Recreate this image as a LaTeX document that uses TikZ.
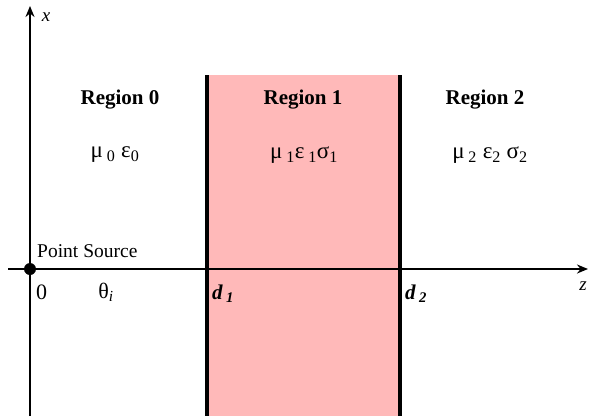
\documentclass[tikz,border=0pt]{standalone}
\usepackage{fontspec}
\setmainfont{Liberation Serif}
\usetikzlibrary{arrows.meta}
\begin{document}
\begin{tikzpicture}[x=1pt,y=-1pt,
  axis/.style={line width=2.6pt,-{Stealth[length=11pt,width=9pt]}},
  border/.style={line width=3.2pt},
  reg/.style={font=\fontsize{21}{24}\selectfont\bfseries},
  par/.style={font=\fontsize{23}{26}\selectfont},
  lab/.style={font=\fontsize{22}{26}\selectfont}]
\useasboundingbox (0,0) rectangle (591,416);
\fill[fill={rgb,255:red,255;green,185;blue,185}] (207,75) rectangle (400,416);
\draw[border] (207,75) -- (207,416);
\draw[border] (400,75) -- (400,416);
\coordinate (xs) at (30,416);
\coordinate (xe) at (30,6);
\coordinate (zs) at (8,269);
\coordinate (ze) at (588,269);
\draw[axis] (xs) -- (xe);
\draw[axis] (zs) -- (ze);
\fill (30,269) circle (6);
\node[font=\fontsize{19}{22}\selectfont\itshape] (xl) at (46,17) {x};
\node[font=\fontsize{19}{22}\selectfont\itshape] (zl) at (583,286) {z};
\node[reg] (r0) at (120,100) {Region 0};
\node[reg] (r1) at (303,100) {Region 1};
\node[reg] (r2) at (485,100) {Region 2};
\node[par] (p0) at (115,155) {μ\,\textsubscript{0} ε\textsubscript{0}};
\node[par] (p1) at (304,155) {μ\,\textsubscript{1}ε\,\textsubscript{1}σ\textsubscript{1}};
\node[par] (p2) at (490,155) {μ\,\textsubscript{2} ε\textsubscript{2} σ\textsubscript{2}};
\node[font=\fontsize{19.5}{22}\selectfont,anchor=west,inner sep=0pt] (ps) at (37,251) {Point Source};
\node[lab,anchor=west,inner sep=0pt] (o) at (36,292) {0};
\node[lab] (th) at (106,292) {θ\textsubscript{\itshape i}};
\node[lab,font=\fontsize{21}{24}\selectfont\bfseries\itshape,anchor=west,inner sep=0pt] (d1) at (212,294) {d\,\textsubscript{1}};
\node[lab,font=\fontsize{21}{24}\selectfont\bfseries\itshape,anchor=west,inner sep=0pt] (d2) at (405,294) {d\,\textsubscript{2}};
\end{tikzpicture}
\end{document}
